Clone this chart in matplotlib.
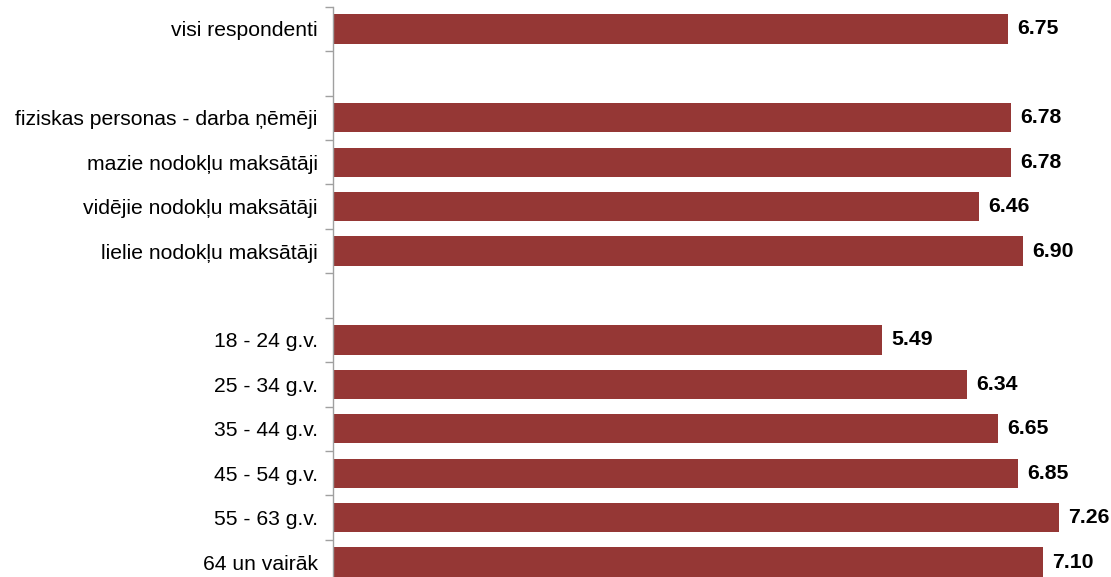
import numpy as np
from matplotlib import pyplot as plt

plt.rcParams['font.family'] = ['Liberation Sans', 'DejaVu Sans']

# empty strings leave a blank row between the groups
categories = ['visi respondenti', '',
              'fiziskas personas - darba ņēmēji', 'mazie nodokļu maksātāji',
              'vidējie nodokļu maksātāji', 'lielie nodokļu maksātāji', '',
              '18 - 24 g.v.', '25 - 34 g.v.', '35 - 44 g.v.', '45 - 54 g.v.',
              '55 - 63 g.v.', '64 un vairāk']
values = [6.75, None,
          6.78, 6.78, 6.46, 6.90, None,
          5.49, 6.34, 6.65, 6.85, 7.26, 7.10]

bar_color = '#953735'

fig = plt.figure(figsize=(11.11, 5.77), dpi=100)
ax = fig.add_axes([333 / 1111, -7.3 / 577, 778 / 1111, 577.6 / 577])

rows = np.arange(len(categories))
for y, v in zip(rows, values):
    if v is None:
        continue
    ax.barh(y, v, height=0.66, color=bar_color, edgecolor='none')
    ax.text(v + 0.09, y, f'{v:.2f}', va='center', ha='left',
            fontsize=15.3, fontweight='bold', color='black')

ax.set_xlim(0, 7.78)
ax.set_ylim(len(categories) - 0.5, -0.5)

# tick marks sit on the category boundaries, labels in the middle of each row
ax.set_yticks(np.arange(len(categories) + 1) - 0.5)
ax.set_yticklabels([])
ax.set_yticks(rows, minor=True)
ax.set_yticklabels(categories, minor=True, fontsize=15.2)
ax.tick_params(axis='y', which='major', direction='out', length=6,
               width=1, color='#a0a0a0')
ax.tick_params(axis='y', which='minor', length=0, pad=11)

ax.set_xticks([])
for side in ['top', 'right', 'bottom']:
    ax.spines[side].set_visible(False)
ax.spines['left'].set_color('#a0a0a0')
ax.spines['left'].set_linewidth(1)

fig.savefig('out.png', dpi=100)
